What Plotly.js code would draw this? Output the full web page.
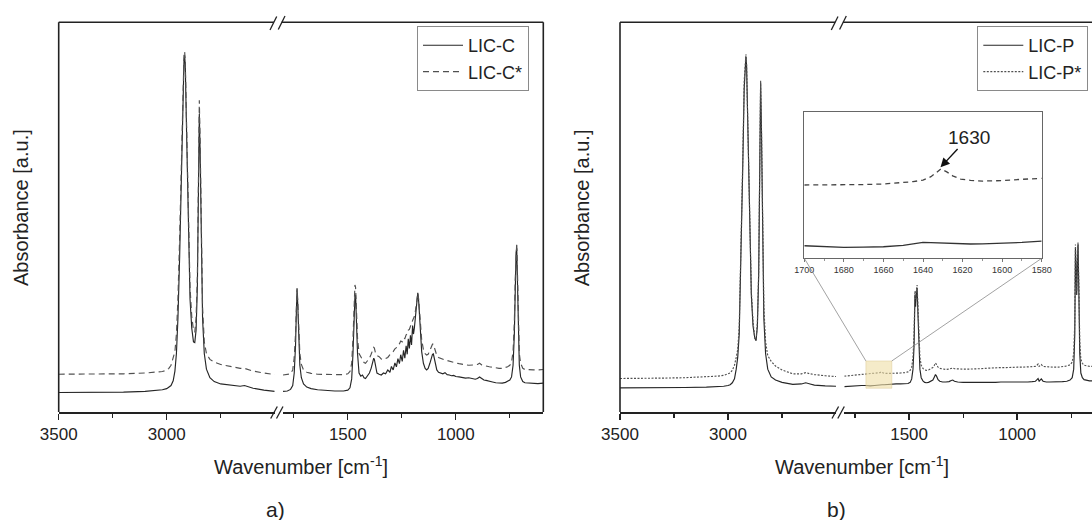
<!DOCTYPE html>
<html><head><meta charset="utf-8">
<script src="https://cdn.plot.ly/plotly-3.0.1.min.js"></script>
<style>html,body{margin:0;padding:0;overflow:hidden;background:#fff;width:1092px;height:520px}#chart{width:1110px;height:520px}</style>
</head><body><div id="chart"></div><script>
// ---------- data ----------
const seriesA = ['LIC-C', 'LIC-C*'];
const seriesB = ['LIC-P', 'LIC-P*'];

// high wavenumber segment (shared grid, 3500 -> 2500 cm-1)
const wnHigh = [3500,3400,3300,3200,3100,3050,3020,3000,2990,2980,2970,2962,2955,2948,2940,2932,2925,2920,2917,2914,2908,2900,2892,2884,2876,2870,2864,2858,2853,2849,2845,2840,2834,2826,2816,2800,2780,2750,2700,2660,2640,2620,2600,2550,2500];
const aSolidHigh = [.050,.050,.050,.051,.053,.055,.057,.060,.063,.068,.080,.105,.15,.24,.40,.62,.82,.90,.915,.89,.72,.45,.29,.215,.18,.178,.21,.32,.56,.765,.66,.42,.24,.15,.11,.088,.078,.072,.068,.066,.068,.064,.061,.056,.053];
const aDashHigh = [.097,.097,.097,.098,.100,.102,.104,.107,.112,.12,.14,.155,.20,.29,.45,.66,.85,.915,.925,.90,.74,.48,.32,.245,.21,.205,.24,.35,.59,.80,.69,.45,.27,.18,.15,.135,.128,.122,.116,.112,.112,.108,.105,.10,.096];
const bSolidHigh = [.062,.062,.062,.063,.064,.065,.066,.068,.07,.075,.085,.11,.14,.2,.38,.62,.83,.90,.912,.89,.72,.46,.30,.22,.19,.183,.22,.35,.62,.845,.72,.45,.24,.15,.11,.09,.082,.076,.071,.072,.075,.072,.069,.067,.066];
const bDotHigh = [.086,.086,.087,.088,.09,.092,.094,.097,.10,.107,.12,.14,.16,.22,.40,.64,.85,.91,.918,.89,.73,.47,.31,.23,.19,.185,.23,.36,.63,.85,.73,.47,.27,.18,.145,.13,.118,.108,.098,.098,.101,.098,.096,.093,.091];

// low wavenumber segment, panel a (1800 -> 595 cm-1)
const wnLowA = [1800,1780,1765,1755,1748,1742,1738,1735,1732,1728,1722,1715,1705,1690,1670,1640,1600,1560,1520,1500,1490,1482,1476,1471,1467,1464,1460,1455,1448,1440,1432,1425,1418,1410,1400,1392,1385,1380,1377,1372,1365,1355,1345,1335,1325,1315,1305,1298,1290,1282,1275,1268,1261,1255,1248,1242,1236,1230,1225,1220,1215,1210,1205,1200,1196,1192,1188,1184,1180,1176,1172,1166,1158,1150,1142,1135,1128,1120,1114,1108,1104,1100,1095,1088,1080,1070,1060,1050,1040,1030,1020,1010,1000,985,970,955,940,925,910,900,890,880,870,860,845,830,815,800,785,770,760,750,742,735,729,725,721,718,715,711,706,700,690,680,660,640,620,595];
const aSolidLow = [.053,.054,.058,.068,.10,.17,.26,.315,.28,.19,.12,.088,.072,.064,.060,.057,.055,.054,.054,.056,.062,.085,.15,.24,.295,.30,.24,.15,.10,.092,.095,.088,.086,.093,.10,.112,.13,.138,.135,.115,.10,.097,.095,.10,.098,.108,.102,.117,.108,.126,.116,.137,.124,.147,.13,.158,.138,.17,.148,.188,.163,.197,.172,.222,.20,.215,.24,.265,.295,.306,.285,.22,.155,.125,.112,.108,.112,.125,.14,.148,.149,.14,.122,.108,.102,.10,.098,.101,.096,.095,.093,.094,.091,.09,.089,.087,.088,.085,.084,.086,.09,.086,.082,.081,.078,.077,.075,.074,.074,.076,.078,.082,.09,.12,.2,.32,.41,.42,.36,.22,.12,.09,.078,.075,.074,.074,.073,.074];
const aDashLow = [.095,.096,.098,.108,.14,.2,.28,.318,.29,.21,.15,.122,.108,.102,.099,.097,.096,.096,.096,.098,.104,.125,.19,.28,.326,.32,.27,.19,.15,.142,.135,.127,.125,.13,.138,.148,.16,.166,.164,.152,.145,.142,.136,.134,.137,.14,.147,.15,.155,.162,.165,.172,.175,.182,.18,.19,.188,.198,.2,.21,.212,.22,.225,.235,.24,.245,.255,.275,.298,.305,.29,.24,.185,.16,.15,.146,.148,.158,.168,.174,.174,.168,.155,.145,.14,.137,.134,.133,.132,.13,.128,.127,.126,.124,.122,.121,.12,.12,.121,.122,.125,.121,.119,.118,.116,.115,.113,.112,.112,.114,.116,.12,.128,.155,.23,.34,.425,.434,.37,.24,.15,.125,.112,.109,.108,.108,.108,.109];

// low wavenumber segment, panel b (1800 -> 595 cm-1)
const wnLowB = [1800,1780,1760,1740,1720,1700,1680,1660,1645,1635,1630,1625,1615,1600,1580,1560,1540,1520,1505,1495,1488,1482,1477,1473,1470,1467,1463,1459,1455,1450,1444,1436,1428,1420,1410,1400,1390,1383,1378,1373,1366,1358,1345,1330,1315,1305,1298,1290,1275,1250,1225,1200,1175,1150,1125,1100,1075,1050,1025,1000,975,950,930,915,908,903,898,893,888,880,865,850,830,810,790,770,755,745,738,733,730,727,724,721,718,714,710,705,698,690,680,665,650,630,610,595];
const bSolidLow = [.065,.066,.067,.068,.068,.068,.067,.068,.069,.071,.071,.07,.07,.071,.072,.072,.072,.072,.073,.076,.085,.11,.17,.30,.27,.30,.318,.25,.16,.11,.088,.08,.076,.075,.076,.078,.082,.09,.096,.092,.083,.079,.077,.077,.078,.081,.082,.079,.077,.076,.076,.075,.075,.075,.076,.076,.077,.077,.076,.076,.077,.077,.078,.079,.083,.086,.079,.082,.085,.079,.077,.077,.077,.077,.078,.079,.082,.088,.11,.2,.42,.36,.30,.38,.43,.30,.15,.10,.088,.083,.081,.08,.08,.08,.08,.08];
const bDotLow = [.092,.093,.094,.095,.096,.097,.097,.098,.099,.101,.103,.101,.099,.099,.099,.1,.1,.101,.103,.107,.115,.14,.2,.31,.29,.31,.326,.27,.19,.14,.12,.112,.108,.107,.108,.11,.114,.12,.126,.122,.115,.112,.11,.109,.11,.112,.113,.111,.11,.11,.11,.11,.111,.112,.113,.113,.114,.114,.115,.115,.115,.116,.116,.117,.12,.123,.117,.12,.122,.117,.116,.115,.115,.115,.116,.118,.121,.128,.15,.23,.43,.37,.31,.39,.435,.32,.18,.135,.125,.12,.118,.117,.117,.117,.117,.117];

// inset (magnified 1700 -> 1580 cm-1)
const wnInset = [1700,1690,1680,1670,1660,1650,1645,1640,1636,1633,1631,1628,1625,1621,1616,1610,1600,1590,1580];
const insetSolid = [.086,.079,.075,.076,.079,.088,.098,.109,.107,.105,.104,.102,.101,.099,.098,.099,.103,.109,.118];
const insetDot = [.502,.502,.503,.505,.509,.518,.525,.536,.559,.59,.612,.592,.565,.543,.534,.529,.532,.541,.548];
const insetTicks = [1700,1680,1660,1640,1620,1600,1580];
const insetMinor = [1690,1670,1650,1630,1610,1590];
const insetRange = [1700, 1580];
const markedPeak = 1630;

const highRange = [3500, 2500];
const lowRange = [1800, 595];
const highTicks = [3500, 3000], highMinor = [3250, 2750];
const lowTicks = [1500, 1000], lowMinor = [1750, 1250, 750];

// ---------- geometry helpers ----------
const W = 1110, H = 520;
const px = x => x / W;
const py = y => 1 - y / H;
const FONT = 'Liberation Sans, Arial, Helvetica, sans-serif';
const INK = '#222';

const yDom = [py(412), py(22.3)];
const offB = 561.3;
const domA1 = [px(58.7), px(274.7)], domA2 = [px(283), px(543.3)];
const domB1 = [px(58.7 + offB), px(274.7 + offB)], domB2 = [px(283 + offB), px(543.3 + offB)];
const domInsetX = [px(804.3), px(1041.7)], domInsetY = [py(258.3), py(112.3)];

function mainX(domain, range, tv, minor) {
  return {
    domain, range, anchor: 'y', showline: true, linecolor: INK, linewidth: 1.6,
    ticks: 'outside', ticklen: 6, tickwidth: 1.3, tickcolor: INK,
    tickmode: 'array', tickvals: tv, ticktext: tv.map(String),
    minor: {tickmode: 'array', tickvals: minor, ticks: 'outside', ticklen: 4, tickwidth: 1.2, tickcolor: INK, showgrid: false},
    showgrid: false, zeroline: false, tickfont: {family: FONT, size: 17, color: INK}, fixedrange: true
  };
}

const solidLine = {color: '#262626', width: 1.15};
const dashLineA = {color: '#505050', width: 1.15, dash: '6px,4px'};
const dotLineB = {color: '#505050', width: 1.15, dash: '2px,1.5px'};

const traces = [
  {x: wnHigh, y: aSolidHigh, xaxis: 'x', yaxis: 'y', name: seriesA[0], line: solidLine, legend: 'legend', legendgroup: 'a0'},
  {x: wnHigh, y: aDashHigh, xaxis: 'x', yaxis: 'y', name: seriesA[1], line: dashLineA, legend: 'legend', legendgroup: 'a1'},
  {x: wnLowA, y: aSolidLow, xaxis: 'x2', yaxis: 'y', name: seriesA[0], line: solidLine, showlegend: false, legendgroup: 'a0'},
  {x: wnLowA, y: aDashLow, xaxis: 'x2', yaxis: 'y', name: seriesA[1], line: dashLineA, showlegend: false, legendgroup: 'a1'},
  {x: wnHigh, y: bSolidHigh, xaxis: 'x3', yaxis: 'y', name: seriesB[0], line: solidLine, legend: 'legend2', legendgroup: 'b0'},
  {x: wnHigh, y: bDotHigh, xaxis: 'x3', yaxis: 'y', name: seriesB[1], line: dotLineB, legend: 'legend2', legendgroup: 'b1'},
  {x: wnLowB, y: bSolidLow, xaxis: 'x4', yaxis: 'y', name: seriesB[0], line: solidLine, showlegend: false, legendgroup: 'b0'},
  {x: wnLowB, y: bDotLow, xaxis: 'x4', yaxis: 'y', name: seriesB[1], line: dotLineB, showlegend: false, legendgroup: 'b1'},
  {x: wnInset, y: insetSolid, xaxis: 'x5', yaxis: 'y2', name: seriesB[0], line: {color: '#333', width: 1.3}, showlegend: false},
  {x: wnInset, y: insetDot, xaxis: 'x5', yaxis: 'y2', name: seriesB[1], line: {color: '#444', width: 1.3, dash: '5px,4px'}, showlegend: false}
].map(t => Object.assign({type: 'scatter', mode: 'lines', hoverinfo: 'skip'}, t));

// ---------- decorations ----------
const shapes = [];
function seg(x0, y0, x1, y1, color, width) {
  shapes.push({type: 'line', xref: 'paper', yref: 'paper', x0: px(x0), y0: py(y0), x1: px(x1), y1: py(y1), line: {color: color || INK, width: width || 1.6}});
}
function frame(off, drawRight) {
  seg(58.7 + off, 412, 58.7 + off, 22.3);
  seg(58.7 + off, 22.3, 273.9 + off, 22.3);
  seg(281.6 + off, 22.3, 543.3 + off, 22.3);
  if (drawRight) seg(543.3 + off, 22.3, 543.3 + off, 412);
  seg(270 + off, 30, 276.7 + off, 16.5, INK, 1.3);
  seg(278.3 + off, 29.5, 285 + off, 16, INK, 1.3);
  seg(270.7 + off, 418.5, 277.3 + off, 406.5, INK, 1.3);
  seg(276.5 + off, 418.5, 283 + off, 406.5, INK, 1.3);
}
frame(0, true);
frame(offB, true);

// highlighted region in panel b main plot
const rectY = [0.061, 0.131];
shapes.push({type: 'rect', xref: 'x4', yref: 'y', x0: insetRange[0], x1: insetRange[1], y0: rectY[0], y1: rectY[1],
  fillcolor: 'rgba(238,222,165,0.6)', line: {color: 'rgba(215,195,135,0.7)', width: 0.6}, layer: 'above'});
const x4ToPaper = v => domB2[0] + (lowRange[0] - v) / (lowRange[0] - lowRange[1]) * (domB2[1] - domB2[0]);
const yToPaper = v => yDom[0] + v * (yDom[1] - yDom[0]);
[[insetRange[0], domInsetX[0]], [insetRange[1], domInsetX[1]]].forEach(([v, xp]) => {
  shapes.push({type: 'line', xref: 'paper', yref: 'paper', x0: x4ToPaper(v), y0: yToPaper(rectY[1]), x1: xp, y1: domInsetY[0],
    line: {color: '#8a8a8a', width: 0.8}});
});

const ann = [];
function txt(text, x, y, size, angle) {
  ann.push({text, xref: 'paper', yref: 'paper', x: px(x), y: py(y), xanchor: 'center', yanchor: 'middle', showarrow: false,
    textangle: angle || 0, font: {family: FONT, size, color: INK}});
}
[0, offB].forEach((off, i) => {
  txt('Absorbance [a.u.]', 21 + off, 208, 20, -90);
  txt('Wavenumber [cm<sup>-1</sup>]', 300.7 + off, 465, 20);
  txt(i === 0 ? 'a)' : 'b)', 275.5 + off, 509, 21);
});
ann.push({text: String(markedPeak), xref: 'x5', yref: 'y2', x: markedPeak + 1.5, y: 0.618, ax: 29, ay: -31,
  showarrow: true, arrowhead: 2, arrowsize: 1.3, arrowwidth: 1.4, arrowcolor: '#111', standoff: 1,
  font: {family: FONT, size: 19, color: INK}});

const legendStyle = {bgcolor: '#fff', bordercolor: '#8a8a8a', borderwidth: 1, font: {family: FONT, size: 18, color: INK},
  xanchor: 'left', yanchor: 'top', traceorder: 'grouped', tracegroupgap: 0, itemwidth: 40, itemclick: false, itemdoubleclick: false};

const layout = {
  width: W, height: H, margin: {l: 0, r: 0, t: 0, b: 0, pad: 0},
  paper_bgcolor: '#fff', plot_bgcolor: 'rgba(0,0,0,0)',
  font: {family: FONT, color: INK},
  xaxis: mainX(domA1, highRange, highTicks, highMinor),
  xaxis2: mainX(domA2, lowRange, lowTicks, lowMinor),
  xaxis3: mainX(domB1, highRange, highTicks, highMinor),
  xaxis4: mainX(domB2, lowRange, lowTicks, lowMinor),
  xaxis5: {domain: domInsetX, range: insetRange, anchor: 'y2', showline: true, mirror: true, linecolor: '#666', linewidth: 1,
    ticks: 'outside', ticklen: 3, tickwidth: 0.8, tickcolor: '#555', tickmode: 'array', tickvals: insetTicks, ticktext: insetTicks.map(String),
    minor: {tickmode: 'array', tickvals: insetMinor, ticks: 'outside', ticklen: 2, tickwidth: 0.7, tickcolor: '#666', showgrid: false},
    showgrid: false, zeroline: false, tickfont: {family: FONT, size: 9, color: '#333'}, fixedrange: true},
  yaxis: {domain: yDom, range: [0, 1], anchor: 'x', showline: false, showticklabels: false, ticks: '', showgrid: false, zeroline: false, fixedrange: true},
  yaxis2: {domain: domInsetY, range: [0, 1], anchor: 'x5', showline: true, mirror: true, linecolor: '#666', linewidth: 1,
    showticklabels: false, ticks: '', showgrid: false, zeroline: false, fixedrange: true},
  legend: Object.assign({x: px(417), y: py(26)}, legendStyle),
  legend2: Object.assign({x: px(977.3), y: py(26)}, legendStyle),
  shapes, annotations: ann, showlegend: true
};

Plotly.newPlot('chart', traces, layout, {displayModeBar: false, staticPlot: true});
</script></body></html>
